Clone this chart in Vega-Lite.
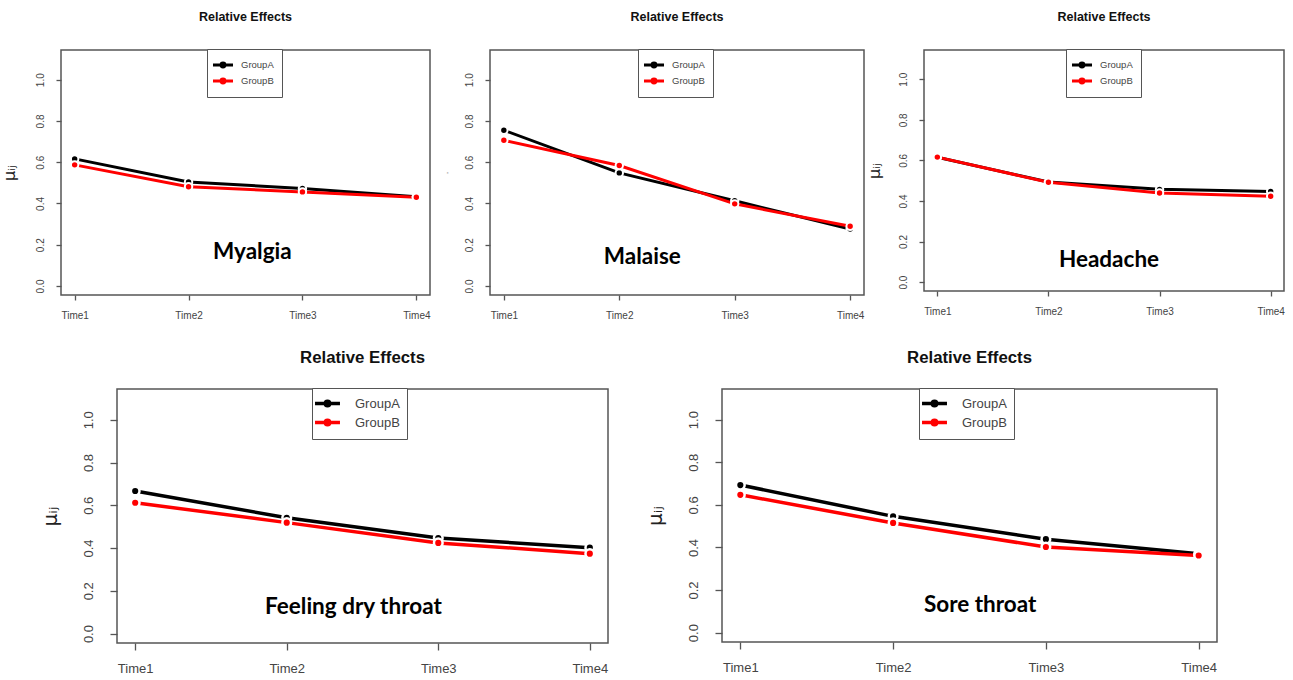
{
  "$schema": "https://vega.github.io/schema/vega-lite/v6.json",
  "background": "white",
  "padding": {"left": 0, "top": 10, "right": 0, "bottom": 0},
  "datasets": {
    "d": [
      {"symptom": "Myalgia", "group": "GroupA", "time": 1, "value": 0.616},
      {"symptom": "Myalgia", "group": "GroupA", "time": 2, "value": 0.504},
      {"symptom": "Myalgia", "group": "GroupA", "time": 3, "value": 0.473},
      {"symptom": "Myalgia", "group": "GroupA", "time": 4, "value": 0.432},
      {"symptom": "Myalgia", "group": "GroupB", "time": 1, "value": 0.587},
      {"symptom": "Myalgia", "group": "GroupB", "time": 2, "value": 0.481},
      {"symptom": "Myalgia", "group": "GroupB", "time": 3, "value": 0.456},
      {"symptom": "Myalgia", "group": "GroupB", "time": 4, "value": 0.43},
      {"symptom": "Malaise", "group": "GroupA", "time": 1, "value": 0.755},
      {"symptom": "Malaise", "group": "GroupA", "time": 2, "value": 0.548},
      {"symptom": "Malaise", "group": "GroupA", "time": 3, "value": 0.413},
      {"symptom": "Malaise", "group": "GroupA", "time": 4, "value": 0.276},
      {"symptom": "Malaise", "group": "GroupB", "time": 1, "value": 0.706},
      {"symptom": "Malaise", "group": "GroupB", "time": 2, "value": 0.584},
      {"symptom": "Malaise", "group": "GroupB", "time": 3, "value": 0.398},
      {"symptom": "Malaise", "group": "GroupB", "time": 4, "value": 0.289},
      {"symptom": "Headache", "group": "GroupA", "time": 1, "value": 0.615},
      {"symptom": "Headache", "group": "GroupA", "time": 2, "value": 0.493},
      {"symptom": "Headache", "group": "GroupA", "time": 3, "value": 0.457},
      {"symptom": "Headache", "group": "GroupA", "time": 4, "value": 0.447},
      {"symptom": "Headache", "group": "GroupB", "time": 1, "value": 0.616},
      {"symptom": "Headache", "group": "GroupB", "time": 2, "value": 0.492},
      {"symptom": "Headache", "group": "GroupB", "time": 3, "value": 0.439},
      {"symptom": "Headache", "group": "GroupB", "time": 4, "value": 0.423},
      {"symptom": "Feeling dry throat", "group": "GroupA", "time": 1, "value": 0.667},
      {"symptom": "Feeling dry throat", "group": "GroupA", "time": 2, "value": 0.542},
      {"symptom": "Feeling dry throat", "group": "GroupA", "time": 3, "value": 0.447},
      {"symptom": "Feeling dry throat", "group": "GroupA", "time": 4, "value": 0.402},
      {"symptom": "Feeling dry throat", "group": "GroupB", "time": 1, "value": 0.612},
      {"symptom": "Feeling dry throat", "group": "GroupB", "time": 2, "value": 0.519},
      {"symptom": "Feeling dry throat", "group": "GroupB", "time": 3, "value": 0.424},
      {"symptom": "Feeling dry throat", "group": "GroupB", "time": 4, "value": 0.374},
      {"symptom": "Sore throat", "group": "GroupA", "time": 1, "value": 0.693},
      {"symptom": "Sore throat", "group": "GroupA", "time": 2, "value": 0.546},
      {"symptom": "Sore throat", "group": "GroupA", "time": 3, "value": 0.439},
      {"symptom": "Sore throat", "group": "GroupA", "time": 4, "value": 0.37},
      {"symptom": "Sore throat", "group": "GroupB", "time": 1, "value": 0.647},
      {"symptom": "Sore throat", "group": "GroupB", "time": 2, "value": 0.515},
      {"symptom": "Sore throat", "group": "GroupB", "time": 3, "value": 0.402},
      {"symptom": "Sore throat", "group": "GroupB", "time": 4, "value": 0.362}
    ]
  },
  "spacing": 27,
  "resolve": {"scale": {"x": "independent", "y": "independent", "color": "independent"}, "legend": {"color": "independent"}},
  "vconcat": [
    {
      "hconcat": [
        {
          "width": 369, "height": 245,
          "title": {"text": "Relative Effects", "fontSize": 12.5, "offset": 25},
          "layer": [
            {
              "data": {"name": "d"},
              "transform": [{"filter": "datum.symptom === 'Myalgia'"}],
              "mark": {"type": "line", "strokeWidth": 3},
              "encoding": {
                "x": {"field": "time", "type": "quantitative", "scale": {"domain": [0.88, 4.12], "nice": false, "zero": false}, "axis": {"values": [1, 2, 3, 4], "labelExpr": "'Time' + datum.value", "title": null, "tickSize": 5, "labelPadding": 10, "labelFontSize": 10}},
                "y": {"field": "value", "type": "quantitative", "scale": {"domain": [-0.044, 1.144], "nice": false, "zero": false}, "axis": {"values": [0, 0.2, 0.4, 0.6, 0.8, 1], "format": ".1f", "title": "μᵢⱼ", "titleFontSize": 16, "titlePadding": 18, "tickSize": 5, "labelPadding": 11, "labelFontSize": 10}},
                "color": {"field": "group", "type": "nominal", "scale": {"domain": ["GroupA", "GroupB"], "range": ["#000000", "#ff0000"]},
                  "legend": {"orient": "none", "legendX": 146, "legendY": -1, "title": null, "padding": 8, "symbolSize": 169, "symbolType": "M-1.54,0H1.54M-0.3,0A0.3,0.3,0,1,1,0.3,0A0.3,0.3,0,1,1,-0.3,0Z", "symbolStrokeWidth": 3, "labelFontSize": 9.5, "labelOffset": 10, "labelExpr": "datum.label + ' '"}}
              }
            },
            {
              "data": {"name": "d"},
              "transform": [{"filter": "datum.symptom === 'Myalgia'"}],
              "mark": {"type": "point", "filled": true, "size": 55, "stroke": "white", "strokeWidth": 2, "opacity": 1},
              "encoding": {
                "x": {"field": "time", "type": "quantitative"},
                "y": {"field": "value", "type": "quantitative"},
                "color": {"field": "group", "type": "nominal"}
              }
            },
            {
              "data": {"values": [{"label": "Myalgia"}]},
              "mark": {"type": "text", "font": "Lato", "fontWeight": "bold", "fontSize": 22.5, "align": "center", "baseline": "alphabetic", "color": "#000"},
              "encoding": {"x": {"datum": 2.56}, "y": {"datum": 0.13}, "text": {"field": "label"}}
            }
          ]
        },
        {
          "width": 374, "height": 245,
          "title": {"text": "Relative Effects", "fontSize": 12.5, "offset": 25},
          "layer": [
            {
              "data": {"name": "d"},
              "transform": [{"filter": "datum.symptom === 'Malaise'"}],
              "mark": {"type": "line", "strokeWidth": 3},
              "encoding": {
                "x": {"field": "time", "type": "quantitative", "scale": {"domain": [0.88, 4.12], "nice": false, "zero": false}, "axis": {"values": [1, 2, 3, 4], "labelExpr": "'Time' + datum.value", "title": null, "tickSize": 5, "labelPadding": 10, "labelFontSize": 10}},
                "y": {"field": "value", "type": "quantitative", "scale": {"domain": [-0.044, 1.144], "nice": false, "zero": false}, "axis": {"values": [0, 0.2, 0.4, 0.6, 0.8, 1], "format": ".1f", "title": "·", "titleFontSize": 10, "titleColor": "#999", "titlePadding": 12, "tickSize": 5, "labelPadding": 11, "labelFontSize": 10}},
                "color": {"field": "group", "type": "nominal", "scale": {"domain": ["GroupA", "GroupB"], "range": ["#000000", "#ff0000"]},
                  "legend": {"orient": "none", "legendX": 148, "legendY": -1, "title": null, "padding": 8, "symbolSize": 169, "symbolType": "M-1.54,0H1.54M-0.3,0A0.3,0.3,0,1,1,0.3,0A0.3,0.3,0,1,1,-0.3,0Z", "symbolStrokeWidth": 3, "labelFontSize": 9.5, "labelOffset": 10, "labelExpr": "datum.label + ' '"}}
              }
            },
            {
              "data": {"name": "d"},
              "transform": [{"filter": "datum.symptom === 'Malaise'"}],
              "mark": {"type": "point", "filled": true, "size": 55, "stroke": "white", "strokeWidth": 2, "opacity": 1},
              "encoding": {
                "x": {"field": "time", "type": "quantitative"},
                "y": {"field": "value", "type": "quantitative"},
                "color": {"field": "group", "type": "nominal"}
              }
            },
            {
              "data": {"values": [{"label": "Malaise"}]},
              "mark": {"type": "text", "font": "Lato", "fontWeight": "bold", "fontSize": 22.5, "align": "center", "baseline": "alphabetic", "color": "#000"},
              "encoding": {"x": {"datum": 2.2}, "y": {"datum": 0.105}, "text": {"field": "label"}}
            }
          ]
        },
        {
          "width": 360, "height": 241,
          "title": {"text": "Relative Effects", "fontSize": 12.5, "offset": 25},
          "layer": [
            {
              "data": {"name": "d"},
              "transform": [{"filter": "datum.symptom === 'Headache'"}],
              "mark": {"type": "line", "strokeWidth": 3},
              "encoding": {
                "x": {"field": "time", "type": "quantitative", "scale": {"domain": [0.88, 4.12], "nice": false, "zero": false}, "axis": {"values": [1, 2, 3, 4], "labelExpr": "'Time' + datum.value", "title": null, "tickSize": 5, "labelPadding": 10, "labelFontSize": 10}},
                "y": {"field": "value", "type": "quantitative", "scale": {"domain": [-0.044, 1.144], "nice": false, "zero": false}, "axis": {"values": [0, 0.2, 0.4, 0.6, 0.8, 1], "format": ".1f", "title": "μᵢⱼ", "titleFontSize": 16, "titlePadding": 16, "tickSize": 5, "labelPadding": 11, "labelFontSize": 10}},
                "color": {"field": "group", "type": "nominal", "scale": {"domain": ["GroupA", "GroupB"], "range": ["#000000", "#ff0000"]},
                  "legend": {"orient": "none", "legendX": 142, "legendY": -1, "title": null, "padding": 8, "symbolSize": 169, "symbolType": "M-1.54,0H1.54M-0.3,0A0.3,0.3,0,1,1,0.3,0A0.3,0.3,0,1,1,-0.3,0Z", "symbolStrokeWidth": 3, "labelFontSize": 9.5, "labelOffset": 10, "labelExpr": "datum.label + ' '"}}
              }
            },
            {
              "data": {"name": "d"},
              "transform": [{"filter": "datum.symptom === 'Headache'"}],
              "mark": {"type": "point", "filled": true, "size": 55, "stroke": "white", "strokeWidth": 2, "opacity": 1},
              "encoding": {
                "x": {"field": "time", "type": "quantitative"},
                "y": {"field": "value", "type": "quantitative"},
                "color": {"field": "group", "type": "nominal"}
              }
            },
            {
              "data": {"values": [{"label": "Headache"}]},
              "mark": {"type": "text", "font": "Lato", "fontWeight": "bold", "fontSize": 22.5, "align": "center", "baseline": "alphabetic", "color": "#000"},
              "encoding": {"x": {"datum": 2.545}, "y": {"datum": 0.075}, "text": {"field": "label"}}
            }
          ]
        }
      ],
      "spacing": 60,
      "bounds": "flush",
      "resolve": {"scale": {"x": "independent", "y": "independent", "color": "independent"}, "legend": {"color": "independent"}}
    },
    {
      "hconcat": [
        {
          "width": 1, "height": 1,
          "data": {"values": []},
          "mark": "point",
          "view": {"stroke": null}
        },
        {
          "hconcat": [
            {
              "width": 491, "height": 254,
              "title": {"text": "Relative Effects", "fontSize": 16.8, "offset": 21},
              "layer": [
                {
                  "data": {"name": "d"},
                  "transform": [{"filter": "datum.symptom === 'Feeling dry throat'"}],
                  "mark": {"type": "line", "strokeWidth": 3.5},
                  "encoding": {
                    "x": {"field": "time", "type": "quantitative", "scale": {"domain": [0.88, 4.12], "nice": false, "zero": false}, "axis": {"values": [1, 2, 3, 4], "labelExpr": "'Time' + datum.value", "title": null, "tickSize": 7, "labelPadding": 12, "labelFontSize": 13}},
                    "y": {"field": "value", "type": "quantitative", "scale": {"domain": [-0.044, 1.144], "nice": false, "zero": false}, "axis": {"values": [0, 0.2, 0.4, 0.6, 0.8, 1], "format": ".1f", "title": "μᵢⱼ", "titleFontSize": 20, "titlePadding": 22, "tickSize": 7, "labelPadding": 15, "labelFontSize": 13}},
                    "color": {"field": "group", "type": "nominal", "scale": {"domain": ["GroupA", "GroupB"], "range": ["#000000", "#ff0000"]},
                      "legend": {"orient": "none", "legendX": 195, "legendY": -1, "title": null, "padding": 7, "symbolSize": 182, "symbolType": "M-1.85,0H1.85M-0.33,0A0.33,0.33,0,1,1,0.33,0A0.33,0.33,0,1,1,-0.33,0Z", "symbolStrokeWidth": 3.5, "labelFontSize": 13, "labelOffset": 19, "labelExpr": "datum.label + ' '"}}
                  }
                },
                {
                  "data": {"name": "d"},
                  "transform": [{"filter": "datum.symptom === 'Feeling dry throat'"}],
                  "mark": {"type": "point", "filled": true, "size": 75, "stroke": "white", "strokeWidth": 2.5, "opacity": 1},
                  "encoding": {
                    "x": {"field": "time", "type": "quantitative"},
                    "y": {"field": "value", "type": "quantitative"},
                    "color": {"field": "group", "type": "nominal"}
                  }
                },
                {
                  "data": {"values": [{"label": "Feeling dry throat"}]},
                  "mark": {"type": "text", "font": "Lato", "fontWeight": "bold", "fontSize": 22.5, "align": "center", "baseline": "alphabetic", "color": "#000"},
                  "encoding": {"x": {"datum": 2.44}, "y": {"datum": 0.093}, "text": {"field": "label"}}
                }
              ]
            },
            {
              "width": 495, "height": 253,
              "title": {"text": "Relative Effects", "fontSize": 16.8, "offset": 21},
              "layer": [
                {
                  "data": {"name": "d"},
                  "transform": [{"filter": "datum.symptom === 'Sore throat'"}],
                  "mark": {"type": "line", "strokeWidth": 3.5},
                  "encoding": {
                    "x": {"field": "time", "type": "quantitative", "scale": {"domain": [0.88, 4.12], "nice": false, "zero": false}, "axis": {"values": [1, 2, 3, 4], "labelExpr": "'Time' + datum.value", "title": null, "tickSize": 7, "labelPadding": 12, "labelFontSize": 13}},
                    "y": {"field": "value", "type": "quantitative", "scale": {"domain": [-0.044, 1.144], "nice": false, "zero": false}, "axis": {"values": [0, 0.2, 0.4, 0.6, 0.8, 1], "format": ".1f", "title": "μᵢⱼ", "titleFontSize": 20, "titlePadding": 22, "tickSize": 7, "labelPadding": 15, "labelFontSize": 13}},
                    "color": {"field": "group", "type": "nominal", "scale": {"domain": ["GroupA", "GroupB"], "range": ["#000000", "#ff0000"]},
                      "legend": {"orient": "none", "legendX": 197, "legendY": -1, "title": null, "padding": 7, "symbolSize": 182, "symbolType": "M-1.85,0H1.85M-0.33,0A0.33,0.33,0,1,1,0.33,0A0.33,0.33,0,1,1,-0.33,0Z", "symbolStrokeWidth": 3.5, "labelFontSize": 13, "labelOffset": 19, "labelExpr": "datum.label + ' '"}}
                  }
                },
                {
                  "data": {"name": "d"},
                  "transform": [{"filter": "datum.symptom === 'Sore throat'"}],
                  "mark": {"type": "point", "filled": true, "size": 75, "stroke": "white", "strokeWidth": 2.5, "opacity": 1},
                  "encoding": {
                    "x": {"field": "time", "type": "quantitative"},
                    "y": {"field": "value", "type": "quantitative"},
                    "color": {"field": "group", "type": "nominal"}
                  }
                },
                {
                  "data": {"values": [{"label": "Sore throat"}]},
                  "mark": {"type": "text", "font": "Lato", "fontWeight": "bold", "fontSize": 22.5, "align": "center", "baseline": "alphabetic", "color": "#000"},
                  "encoding": {"x": {"datum": 2.57}, "y": {"datum": 0.095}, "text": {"field": "label"}}
                }
              ]
            }
          ],
          "spacing": 114,
          "bounds": "flush",
          "resolve": {"scale": {"x": "independent", "y": "independent", "color": "independent"}, "legend": {"color": "independent"}}
        }
      ],
      "spacing": 55,
      "bounds": "flush",
      "resolve": {"scale": {"x": "independent", "y": "independent", "color": "independent"}, "legend": {"color": "independent"}}
    }
  ],
  "config": {
    "font": "Liberation Sans",
    "view": {"stroke": "#555555", "strokeWidth": 1.5},
    "axis": {"domain": false, "grid": false, "tickColor": "#555555", "tickWidth": 1.3, "labelColor": "#444444", "labelFont": "Liberation Sans", "titleColor": "#222222", "titleFont": "DejaVu Sans", "titleFontWeight": "normal"},
    "axisY": {"labelAngle": -90, "labelAlign": "center", "labelBaseline": "bottom"},
    "title": {"font": "Liberation Sans", "fontWeight": "bold", "color": "#111111", "frame": "group", "anchor": "middle"},
    "legend": {"strokeColor": "#555555", "fillColor": "white", "labelFont": "Liberation Sans", "labelColor": "#444444", "rowPadding": 0, "direction": "vertical"}
  }
}
